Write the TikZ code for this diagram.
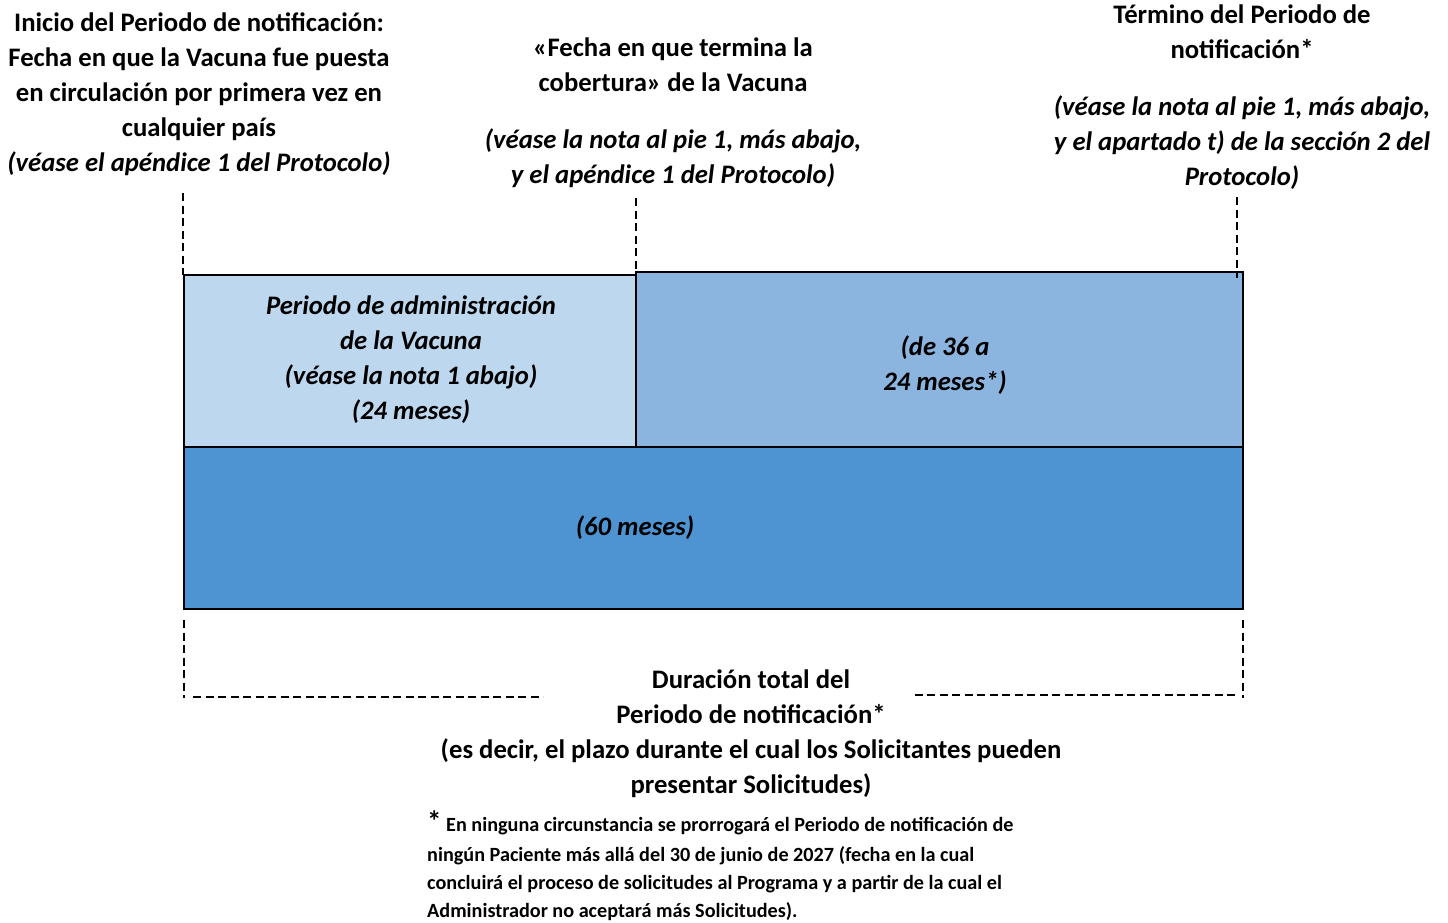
\documentclass[tikz,border=0pt]{standalone}
\usepackage{fontspec}
\setmainfont{Carlito}
\definecolor{lightblue}{RGB}{189,215,238}
\definecolor{midblue}{RGB}{139,180,223}
\definecolor{darkblue}{RGB}{79,148,210}
\begin{document}
\begin{tikzpicture}[x=1pt,y=-1pt,
  bigtxt/.style={font=\fontsize{26.7}{35}\selectfont\bfseries, align=center, inner sep=0pt},
  itxt/.style={font=\fontsize{26.7}{35}\selectfont\bfseries\itshape, align=center, inner sep=0pt},
  notetxt/.style={font=\fontsize{20.2}{28}\selectfont\bfseries, align=left, inner sep=0pt},
  block/.style={draw=black, line width=2.2pt, inner sep=0pt},
  dline/.style={draw=black, line width=2.4pt, dash pattern=on 8pt off 4.5pt}]
\useasboundingbox (0,0) rectangle (1448,922);
% blocks
\node[block, fill=lightblue, minimum width=452pt, minimum height=172pt] (b1) at (410,361) {};
\node[block, fill=midblue, minimum width=607pt, minimum height=175pt] (b2) at (939.5,359.5) {};
\node[block, fill=darkblue, minimum width=1059pt, minimum height=162pt] (b3) at (713.5,528) {};
% block texts
\node[itxt] (t1) at (411,360) {Periodo de administración\\de la Vacuna\\(véase la nota 1 abajo)\\(24 meses)};
\node[itxt] (t2) at (945,365) {(de 36 a\\24 meses*)};
\node[itxt] (t3) at (635,528) {(60 meses)};
% top texts
\node[bigtxt] (top1) at (199,94) {Inicio del Periodo de notificación:\\Fecha en que la Vacuna fue puesta\\en circulación por primera vez en\\cualquier país\\\textit{(véase el apéndice 1 del Protocolo)}};
\node[bigtxt] (top2) at (673,113) {«Fecha en que termina la\\cobertura» de la Vacuna\\[22pt]\textit{(véase la nota al pie 1, más abajo,}\\\textit{y el apéndice 1 del Protocolo)}};
\node[bigtxt] (top3) at (1242,97) {Término del Periodo de\\notificación*\\[22pt]\textit{(véase la nota al pie 1, más abajo,}\\\textit{y el apartado t) de la sección 2 del}\\\textit{Protocolo)}};
% bottom texts
\node[bigtxt] (bot) at (751,734) {Duración total del\\Periodo de notificación*\\(es decir, el plazo durante el cual los Solicitantes pueden\\presentar Solicitudes)};
\node[notetxt, anchor=west] (note) at (427,866) {{\fontsize{29}{28}\selectfont*} En ninguna circunstancia se prorrogará el Periodo de notificación de\\[2pt]ningún Paciente más allá del 30 de junio de 2027 (fecha en la cual\\concluirá el proceso de solicitudes al Programa y a partir de la cual el\\Administrador no aceptará más Solicitudes).};
% dashed markers top
\coordinate (d1a) at (183,193);
\coordinate (d1b) at (183,275);
\coordinate (d2a) at (636,198);
\coordinate (d2b) at (636,272);
\coordinate (d3a) at (1237,197);
\coordinate (d3b) at (1237,278);
\draw[dline] (d1a) -- (d1b);
\draw[dline] (d2a) -- (d2b);
\draw[dline] (d3a) -- (d3b);
% dashed bracket bottom
\coordinate (l1) at (184,620);
\coordinate (l2) at (184,698);
\coordinate (l3) at (193,697);
\coordinate (l4) at (543,697);
\coordinate (r1) at (1243,620);
\coordinate (r2) at (1243,698);
\coordinate (r3) at (1235,695);
\coordinate (r4) at (912,695);
\draw[dline] (l1) -- (l2);
\draw[dline] (l3) -- (l4);
\draw[dline] (r1) -- (r2);
\draw[dline] (r3) -- (r4);
\end{tikzpicture}
\end{document}
